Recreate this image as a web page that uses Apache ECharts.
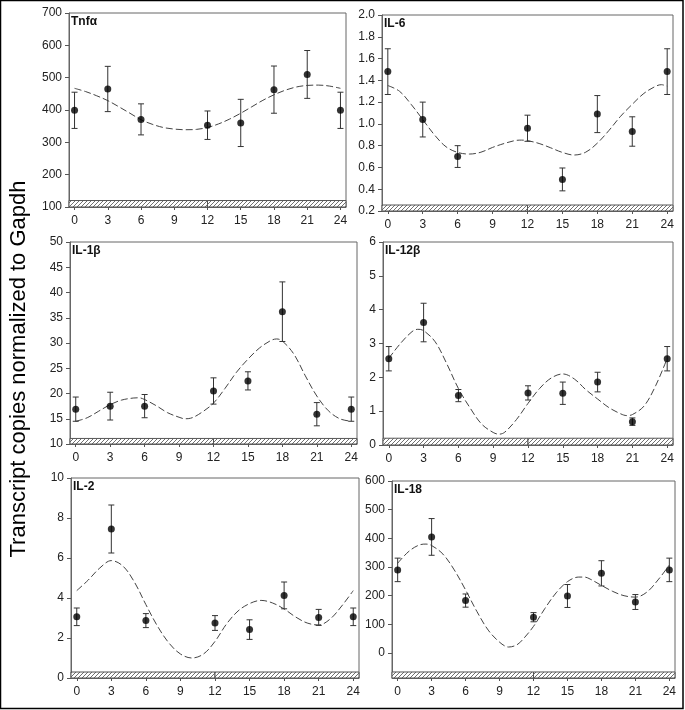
<!DOCTYPE html>
<html>
<head>
<meta charset="utf-8">
<script src="https://cdn.jsdelivr.net/npm/echarts@6/dist/echarts.min.js"></script>
<style>html,body{margin:0;padding:0;background:#fff}#c{width:685px;height:710px}</style>
</head>
<body>
<div id="c"></div>
<script>
// ---- data ----
const hours = [0, 3, 6, 12, 15, 18, 21, 24];
const xTicks = [0, 3, 6, 9, 12, 15, 18, 21, 24];
const hatchSpans = [[-0.5, 12], [12, 24.5]];

const tnfMean = [399, 465, 371, 353, 360, 463, 510, 399];
const tnfErr = [56, 70, 48, 44, 73, 73, 74, 56];
const tnfFitHours = [0, 1, 2, 3, 4, 5, 6, 7, 8, 9, 10, 11, 12, 13, 14, 15, 16, 17, 18, 19, 20, 21, 22, 23, 24];
const tnfFit = [467, 457, 444, 429, 410, 390, 370, 356, 346, 341, 339, 340, 346, 357, 372, 390, 410, 430, 447, 461, 471, 476, 477, 474, 467];
const tnfTicks = [100, 200, 300, 400, 500, 600, 700];

const il6Mean = [1.48, 1.04, 0.70, 0.96, 0.49, 1.09, 0.93, 1.48];
const il6Err = [0.21, 0.16, 0.10, 0.12, 0.105, 0.17, 0.135, 0.21];
const il6FitHours = [0, 1, 2, 3, 4, 5, 6, 7, 8, 9, 10, 11, 11.5, 12, 13, 14, 15, 16, 17, 18, 19, 20, 21, 22, 23, 23.5, 24];
const il6Fit = [1.352, 1.30, 1.18, 1.04, 0.90, 0.79, 0.738, 0.723, 0.74, 0.784, 0.82, 0.848, 0.851, 0.846, 0.82, 0.78, 0.738, 0.714, 0.74, 0.823, 0.94, 1.07, 1.18, 1.28, 1.345, 1.36, 1.346];
const il6Ticks = [0.2, 0.4, 0.6, 0.8, 1.0, 1.2, 1.4, 1.6, 1.8, 2.0];

const il1bMean = [16.9, 17.5, 17.5, 20.5, 22.5, 36.2, 15.9, 16.9];
const il1bErr = [2.4, 2.75, 2.3, 2.6, 1.8, 5.9, 2.3, 2.4];
const il1bFitHours = [0, 1, 2, 3, 4, 5, 5.5, 6, 7, 8, 9, 9.5, 10, 11, 12, 13, 14, 15, 16, 17, 17.5, 18, 19, 20, 21, 22, 23, 24];
const il1bFit = [14.5, 15.2, 16.5, 17.8, 18.7, 19.1, 19.15, 18.8, 17.6, 16.2, 15.3, 15.0, 15.1, 16.3, 18.1, 21.0, 24.2, 26.8, 29.0, 30.5, 30.8, 30.4, 27.8, 23.5, 19.5, 16.6, 15.0, 14.5];
const il1bTicks = [10, 15, 20, 25, 30, 35, 40, 45, 50];

const il12bMean = [2.55, 3.62, 1.46, 1.54, 1.53, 1.86, 0.69, 2.55];
const il12bErr = [0.36, 0.57, 0.18, 0.21, 0.33, 0.29, 0.11, 0.36];
const il12bFitHours = [0, 1, 2, 2.5, 3, 4, 5, 6, 7, 8, 9, 9.5, 10, 11, 12, 13, 14, 15, 16, 17, 18, 19, 20, 20.5, 21, 22, 23, 24];
const il12bFit = [2.56, 3.0, 3.35, 3.42, 3.38, 3.05, 2.4, 1.67, 1.1, 0.62, 0.37, 0.32, 0.38, 0.75, 1.23, 1.67, 1.98, 2.10, 1.95, 1.63, 1.36, 1.1, 0.92, 0.87, 0.9, 1.15, 1.75, 2.56];
const il12bTicks = [0, 1, 2, 3, 4, 5, 6];

const il2Mean = [3.06, 7.45, 2.87, 2.75, 2.42, 4.13, 3.03, 3.06];
const il2Err = [0.44, 1.2, 0.35, 0.37, 0.49, 0.67, 0.4, 0.44];
const il2FitHours = [0, 1, 2, 3, 4, 5, 6, 7, 8, 9, 10, 11, 12, 13, 14, 15, 16, 17, 18, 19, 20, 21, 22, 23, 24];
const il2Fit = [4.37, 4.9, 5.5, 5.87, 5.6, 4.8, 3.67, 2.6, 1.75, 1.2, 1.0, 1.2, 1.83, 2.7, 3.35, 3.72, 3.88, 3.75, 3.45, 3.05, 2.75, 2.65, 2.95, 3.6, 4.37];
const il2Ticks = [0, 2, 4, 6, 8, 10];

const il18Mean = [290, 405, 183, 125, 199, 278, 178, 290];
const il18Err = [41, 64, 23, 16, 40, 44, 26, 41];
const il18FitHours = [0, 1, 2, 2.5, 3, 4, 5, 6, 7, 8, 9, 9.8, 10.5, 11, 12, 13, 14, 15, 16, 16.5, 17, 18, 19, 20, 21, 22, 23, 24];
const il18Fit = [313, 355, 378, 380, 375, 345, 290, 220, 145, 80, 38, 21, 28, 45, 93, 155, 210, 249, 265, 265, 258, 236, 215, 200, 195, 212, 255, 307];
const il18Ticks = [0, 100, 200, 300, 400, 500, 600];

const panels = [
  {name: 'Tnfα', mean: tnfMean, err: tnfErr, fx: tnfFitHours, fit: tnfFit, ticks: tnfTicks, yMin: 100, yMax: 700, hatchTop: 120, dec: 0,
   grid: {left: 69, top: 13, width: 277, height: 194}},
  {name: 'IL-6', mean: il6Mean, err: il6Err, fx: il6FitHours, fit: il6Fit, ticks: il6Ticks, yMin: 0.2, yMax: 2.0, hatchTop: 0.255, dec: 1,
   grid: {left: 382, top: 15, width: 291, height: 196}},
  {name: 'IL-1β', mean: il1bMean, err: il1bErr, fx: il1bFitHours, fit: il1bFit, ticks: il1bTicks, yMin: 10, yMax: 50, hatchTop: 11.1, dec: 0,
   grid: {left: 70, top: 242, width: 287, height: 202}},
  {name: 'IL-12β', mean: il12bMean, err: il12bErr, fx: il12bFitHours, fit: il12bFit, ticks: il12bTicks, yMin: 0, yMax: 6, hatchTop: 0.2, dec: 0,
   grid: {left: 383, top: 242, width: 290, height: 203}},
  {name: 'IL-2', mean: il2Mean, err: il2Err, fx: il2FitHours, fit: il2Fit, ticks: il2Ticks, yMin: 0, yMax: 10, hatchTop: 0.3, dec: 0,
   grid: {left: 71, top: 478, width: 288, height: 200}},
  {name: 'IL-18', mean: il18Mean, err: il18Err, fx: il18FitHours, fit: il18Fit, ticks: il18Ticks, yMin: -87, yMax: 600, hatchTop: -66, dec: 0,
   grid: {left: 392, top: 481, width: 283, height: 197}}
];

// hatch pattern
const pc = document.createElement('canvas');
pc.width = 4; pc.height = 4;
const pctx = pc.getContext('2d');
pctx.fillStyle = '#fff'; pctx.fillRect(0, 0, 4, 4);
pctx.strokeStyle = '#707070'; pctx.lineWidth = 1;
pctx.beginPath();
pctx.moveTo(0, 4); pctx.lineTo(4, 0);
pctx.moveTo(-1, 1); pctx.lineTo(1, -1);
pctx.moveTo(3, 5); pctx.lineTo(5, 3);
pctx.stroke();

const FONT = "'Liberation Sans', Arial, sans-serif";
const grids = [], xAxes = [], yAxes = [], series = [], titles = [];

panels.forEach((p, i) => {
  grids.push(Object.assign({show: true, borderColor: '#666', borderWidth: 1, backgroundColor: '#fff'}, p.grid));
  xAxes.push({
    type: 'value', gridIndex: i, min: -0.5, max: 24.5,
    axisLine: {show: true, onZero: false, lineStyle: {color: '#666'}},
    axisTick: {show: true, inside: false, length: 3, customValues: xTicks, lineStyle: {color: '#555'}},
    axisLabel: {show: true, customValues: xTicks, fontSize: 12, color: '#222', fontFamily: FONT, margin: 8},
    splitLine: {show: false}
  });
  yAxes.push({
    type: 'value', gridIndex: i, min: p.yMin, max: p.yMax,
    axisLine: {show: true, onZero: false, lineStyle: {color: '#666'}},
    axisTick: {show: true, inside: false, length: 4, customValues: p.ticks, lineStyle: {color: '#555'}},
    axisLabel: {show: true, customValues: p.ticks, fontSize: 12, color: '#222', fontFamily: FONT, margin: 7,
      formatter: v => Number(v).toFixed(p.dec)},
    splitLine: {show: false}
  });
  const yMin = p.yMin, hTop = p.hatchTop;
  series.push({
    type: 'custom', xAxisIndex: i, yAxisIndex: i, silent: true, z: 1,
    data: hatchSpans,
    renderItem: (params, api) => {
      const a = api.coord([api.value(0), yMin]);
      const b = api.coord([api.value(1), hTop]);
      return {type: 'rect', shape: {x: a[0], y: b[1], width: b[0] - a[0], height: a[1] - b[1]},
        style: {fill: {image: pc, repeat: 'repeat'}, stroke: '#555', lineWidth: 1}};
    }
  });
  series.push({
    type: 'line', xAxisIndex: i, yAxisIndex: i, smooth: 0.35, showSymbol: false, symbol: 'none', silent: true, z: 2,
    data: p.fx.map((h, k) => [h, p.fit[k]]),
    lineStyle: {color: '#444', width: 1, type: [7, 3]}
  });
  series.push({
    type: 'custom', xAxisIndex: i, yAxisIndex: i, silent: true, z: 3,
    data: hours.map((h, k) => [h, p.mean[k] - p.err[k], p.mean[k] + p.err[k]]),
    renderItem: (params, api) => {
      const lo = api.coord([api.value(0), api.value(1)]);
      const hi = api.coord([api.value(0), api.value(2)]);
      const w = 3, st = {stroke: '#333', lineWidth: 1};
      return {type: 'group', children: [
        {type: 'line', shape: {x1: lo[0], y1: lo[1], x2: hi[0], y2: hi[1]}, style: st},
        {type: 'line', shape: {x1: lo[0] - w, y1: lo[1], x2: lo[0] + w, y2: lo[1]}, style: st},
        {type: 'line', shape: {x1: hi[0] - w, y1: hi[1], x2: hi[0] + w, y2: hi[1]}, style: st}
      ]};
    }
  });
  series.push({
    type: 'scatter', xAxisIndex: i, yAxisIndex: i, symbol: 'circle', symbolSize: 7, silent: true, z: 4,
    itemStyle: {color: '#000'},
    data: hours.map((h, k) => [h, p.mean[k]])
  });
  titles.push({
    text: p.name, left: p.grid.left + 2, top: p.grid.top + 3,
    textStyle: {fontSize: 12, fontWeight: 'bold', color: '#111', fontFamily: FONT}, padding: 0
  });
});

const chart = echarts.init(document.getElementById('c'), null, {renderer: 'canvas'});
chart.setOption({
  animation: false,
  backgroundColor: '#fff',
  title: titles,
  grid: grids,
  xAxis: xAxes,
  yAxis: yAxes,
  series: series,
  graphic: [
    {type: 'rect', shape: {x: 0.5, y: 0.5, width: 682.5, height: 708}, style: {fill: 'none', stroke: '#000', lineWidth: 1.5}, z: 100},
    {type: 'text', x: 19, y: 369, rotation: Math.PI / 2,
     style: {text: 'Transcript copies normalized to Gapdh', font: "22px 'Liberation Sans', Arial, sans-serif",
       fill: '#000', textAlign: 'center', textVerticalAlign: 'middle'}}
  ]
});
</script>
</body>
</html>
